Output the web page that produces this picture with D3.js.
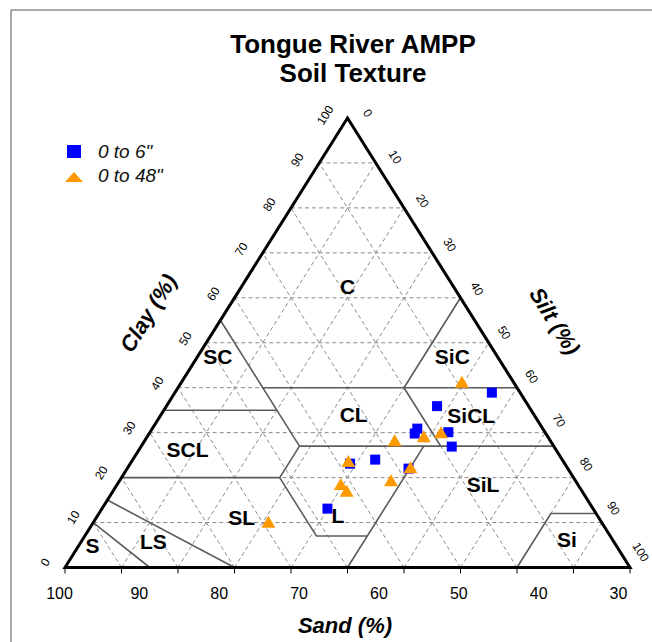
<!DOCTYPE html>
<html><head><meta charset="utf-8">
<script src="https://cdn.jsdelivr.net/npm/d3@7/dist/d3.min.js"></script>
<style>body{margin:0;background:#fff}svg{display:block}</style>
</head><body>
<svg id="chart" width="652" height="642"></svg>
<script>
// ---- Data (sand, silt, clay %) ----
const seriesNames = ['0 to 6"', '0 to 48"'];
const blueSand = [5.0, 16.2, 22.2, 23.2, 17.1, 18.1, 33.1, 38.0, 28.2, 47.0];
const blueSilt = [56.1, 47.9, 46.9, 47.0, 52.8, 55.0, 42.9, 38.9, 49.8, 39.9];
const blueClay = [38.9, 35.9, 30.9, 29.8, 30.1, 26.9, 24.0, 23.1, 22.0, 13.1];
const orangeSand = [9.1, 21.9, 18.4, 27.5, 38.0, 27.7, 32.6, 41.9, 41.6, 58.9];
const orangeSilt = [49.6, 48.9, 51.5, 44.2, 38.3, 50.0, 48.0, 39.5, 41.3, 30.9];
const orangeClay = [41.3, 29.2, 30.1, 28.3, 23.7, 22.3, 19.4, 18.6, 17.1, 10.2];
const sandTickLabels = [100, 90, 80, 70, 60, 50, 40, 30];
const edgeTicks = [0, 10, 20, 30, 40, 50, 60, 70, 80, 90, 100];
// USDA texture class boundaries as [sand, silt, clay] polylines
const boundaries = [
  [[45,0,55],[45,28,27]],
  [[65,0,35],[45,20,35]],
  [[45,15,40],[0,60,40]],
  [[20,40,40],[0,40,60]],
  [[20,40,40],[20,53,27]],
  [[45,28,27],[0,73,27]],
  [[80,0,20],[52,28,20],[45,28,27]],
  [[52,28,20],[52,41,7],[43,50,7]],
  [[23,50,27],[50,50,0]],
  [[0,88,12],[8,80,12],[20,80,0]],
  [[85,0,15],[70,30,0]],
  [[90,0,10],[85,15,0]]
];
const regionNames = ['C','SC','SiC','CL','SiCL','SCL','SiL','SL','L','LS','S','Si'];
const regionPos = [[18.7,18.7,62.6],[49.5,3.6,46.9],[8.0,45.1,46.9],[31.9,34.1,34.0],[11.2,55.0,33.8],
  [65.2,8.6,26.2],[16.8,64.8,18.4],[63.2,25.7,11.1],[45.9,42.5,11.6],[81.4,12.7,5.9],[92.7,2.4,4.9],[8.05,85.75,6.2]];

const svg = d3.select('#chart');
const FONT = '"Liberation Sans", Arial, sans-serif';

// frame
svg.append('path').attr('d','M11,642 V10 H652').attr('fill','none').attr('stroke','#555').attr('stroke-width',1);

// ternary scales: horizontal = silt + clay/2, vertical = clay
const px = d3.scaleLinear().domain([0,100]).range([65,630]);
const py = d3.scaleLinear().domain([0,100]).range([567.5,118]);
const P = (sand, silt, clay) => [px(silt + clay/2), py(clay)];
const line = d3.line();

// grid
const g = svg.append('g').attr('stroke','#8a8a8a').attr('stroke-width',1).attr('stroke-dasharray','4,3').attr('fill','none');
[10,20,30,40,50,60,70,80,90].forEach(v => {
  g.append('path').attr('d', line([P(100-v,0,v), P(0,100-v,v)]));      // clay
  g.append('path').attr('d', line([P(100-v,v,0), P(0,v,100-v)]));      // silt
  g.append('path').attr('d', line([P(v,100-v,0), P(v,0,100-v)]));      // sand
});

// boundaries
const b = svg.append('g').attr('stroke','#5c5c5c').attr('stroke-width',1.6).attr('fill','none');
boundaries.forEach(pl => b.append('path').attr('d', line(pl.map(p => P(...p)))));

// region labels
svg.append('g').selectAll('text').data(regionNames).join('text')
  .attr('x', (d,i) => P(...regionPos[i])[0]).attr('y', (d,i) => P(...regionPos[i])[1])
  .attr('dy','0.36em').attr('text-anchor','middle')
  .attr('font-family', FONT).attr('font-weight','bold').attr('font-size',21).attr('fill','#000')
  .text(d => d);

// triangle outline
svg.append('path').attr('d', line([P(100,0,0), P(0,0,100), P(0,100,0)]) + 'Z')
  .attr('fill','none').attr('stroke','#000').attr('stroke-width',3).attr('stroke-linejoin','miter');

// base ticks
svg.append('g').selectAll('line').data(edgeTicks).join('line')
  .attr('x1', d => P(d,100-d,0)[0]).attr('x2', d => P(d,100-d,0)[0])
  .attr('y1', py(0)).attr('y2', py(0)+6).attr('stroke','#000').attr('stroke-width',1);

// sand axis labels (as in the source chart)
const sx = d3.scaleLinear().domain([100,30]).range([59,618]);
const ax = svg.append('g').attr('transform','translate(0,593)')
  .call(d3.axisBottom(sx).tickValues(sandTickLabels).tickSize(0).tickPadding(0));
ax.select('.domain').remove();
ax.selectAll('text').attr('font-family', FONT).attr('font-size',16).attr('fill','#000').attr('dy','0.36em').attr('y',0);

// clay labels along left edge
const clx = d3.scaleLinear().domain([0,100]).range([45,325]);
const cly = d3.scaleLinear().domain([0,100]).range([562,115]);
svg.append('g').selectAll('text').data(edgeTicks).join('text')
  .attr('transform', d => `translate(${clx(d)},${cly(d)}) rotate(-58)`)
  .attr('text-anchor','middle').attr('dy','0.36em')
  .attr('font-family', FONT).attr('font-size',12).attr('fill','#000').text(d => d);

// silt labels along right edge
const slx = d3.scaleLinear().domain([0,100]).range([368,641]);
const sly = d3.scaleLinear().domain([0,100]).range([113,552]);
svg.append('g').selectAll('text').data(edgeTicks).join('text')
  .attr('transform', d => `translate(${slx(d)},${sly(d)}) rotate(58)`)
  .attr('text-anchor','middle').attr('dy','0.36em')
  .attr('font-family', FONT).attr('font-size',12).attr('fill','#000').text(d => d);

// axis titles
const titleStyle = s => s.attr('font-family', FONT).attr('font-weight','bold').attr('font-style','italic').attr('font-size',22).attr('fill','#000').attr('text-anchor','middle');
svg.append('text').attr('x',345).attr('y',633).text('Sand (%)').call(titleStyle);
svg.append('text').attr('transform','translate(148,313) rotate(-58)').attr('dy','0.36em').text('Clay (%)').call(titleStyle);
svg.append('text').attr('transform','translate(555,321) rotate(58)').attr('dy','0.36em').text('Silt (%)').call(titleStyle);

// chart title
svg.append('text').attr('x',353).attr('y',53).attr('text-anchor','middle').attr('font-family',FONT).attr('font-weight','bold').attr('font-size',26).text('Tongue River AMPP');
svg.append('text').attr('x',353).attr('y',82).attr('text-anchor','middle').attr('font-family',FONT).attr('font-weight','bold').attr('font-size',26).text('Soil Texture');

// data points
const blue = blueSand.map((s,i) => P(s, blueSilt[i], blueClay[i]));
const orange = orangeSand.map((s,i) => P(s, orangeSilt[i], orangeClay[i]));
svg.append('g').selectAll('rect').data(blue).join('rect')
  .attr('x', d => d[0]-5).attr('y', d => d[1]-5).attr('width',10).attr('height',10).attr('fill','#0000ff');
const tri = (w,h) => `M${-w/2},${h/2} L0,${-h/2} L${w/2},${h/2} Z`;
svg.append('g').selectAll('path').data(orange).join('path')
  .attr('transform', d => `translate(${d[0]},${d[1]})`).attr('d', tri(14,12)).attr('fill','#ff9900');

// legend
svg.append('rect').attr('x',67).attr('y',145).attr('width',14).attr('height',13).attr('fill','#0000ff');
svg.append('path').attr('transform','translate(74,177)').attr('d', tri(18,10)).attr('fill','#ff9900');
svg.append('g').selectAll('text').data(seriesNames).join('text')
  .attr('x',98).attr('y',(d,i) => 158 + i*24)
  .attr('font-family',FONT).attr('font-style','italic').attr('font-size',19).attr('fill','#111').text(d => d);
</script>
</body></html>
